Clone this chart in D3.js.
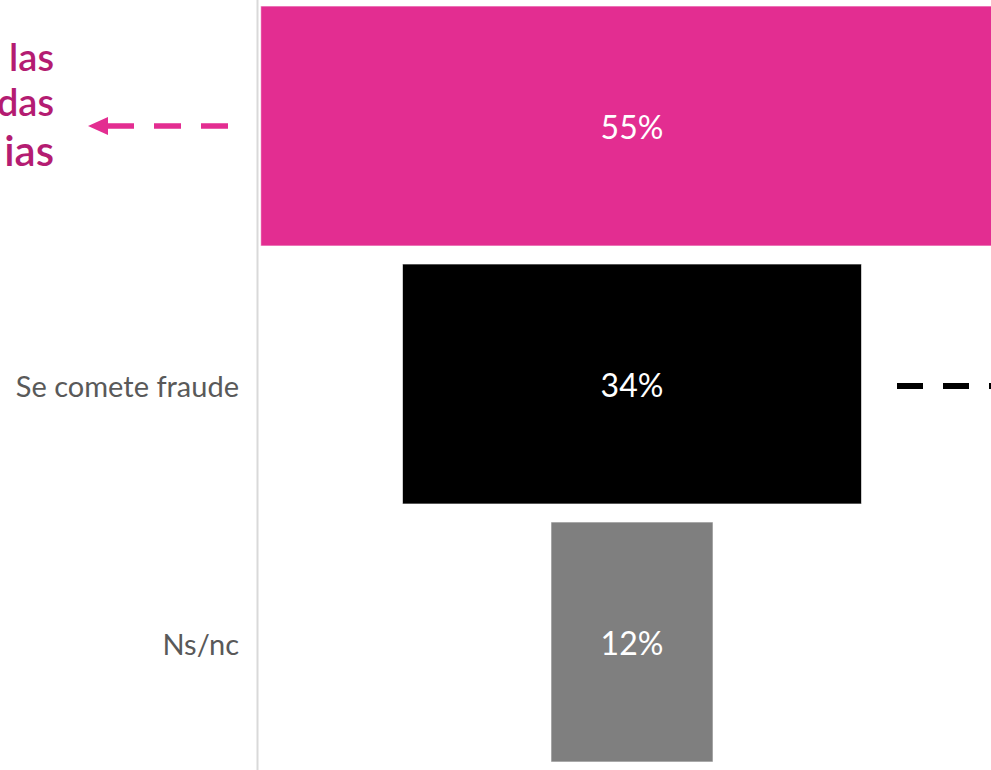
<!DOCTYPE html>
<html>
<head>
<meta charset="utf-8">
<script src="https://cdn.jsdelivr.net/npm/d3@7"></script>
<style>
  html, body { margin: 0; padding: 0; background: #fff; overflow: hidden; }
</style>
</head>
<body>
<svg id="chart" width="991" height="770"></svg>
<script>
'use strict';
// funnel data
var categories = ['top', 'fraude', 'nsnc'],
    labels = ['', 'Se comete fraude', 'Ns/nc'],
    values = [55, 34, 12],
    colors = ['#e32d91', '#000000', '#7f7f7f'],
    noteLines = ['las', 'das', 'ias'];

var width = 991, height = 770, cx = 632;

var svg = d3.select('#chart');

// symmetric scale, bars go from -v/2 to +v/2 around the centre
var x = d3.scaleLinear().domain([-60, 60]).range([cx - 60 * 13.5, cx + 60 * 13.5]);
var y = d3.scaleBand().domain(categories).range([-3, 771]).paddingInner(0.07).paddingOuter(0.035);

// bars
var bars = svg.append('g').selectAll('g')
  .data(categories)
  .enter()
  .append('g');

bars.append('rect')
  .attr('x', (d, i) => x(-values[i] / 2))
  .attr('y', d => y(d))
  .attr('width', (d, i) => x(values[i] / 2) - x(-values[i] / 2))
  .attr('height', y.bandwidth())
  .attr('fill', (d, i) => colors[i])
  .attr('stroke', '#ffffff')
  .attr('stroke-opacity', 0.6)
  .attr('stroke-width', 1);

bars.append('text')
  .text((d, i) => values[i] + '%')
  .attr('x', cx)
  .attr('y', d => y(d) + y.bandwidth() / 2)
  .attr('dy', '0.42em')
  .style('text-anchor', 'middle')
  .style('font-family', 'Lato, "Open Sans", sans-serif')
  .style('font-size', '32px')
  .style('fill', '#ffffff');

// axis
var axis = svg.append('g')
  .attr('transform', 'translate(257,0)')
  .call(d3.axisLeft(y).tickSize(0).tickPadding(18).tickFormat((d, i) => labels[i]));
axis.select('.domain').attr('stroke', '#d9d9d9').attr('stroke-width', 2);
axis.selectAll('text')
  .attr('dy', '0.45em')
  .style('font-family', 'Lato, "Open Sans", sans-serif')
  .style('font-size', '29px')
  .style('fill', '#595959');

// left note, cropped in the picture
svg.append('g').selectAll('text')
  .data(noteLines)
  .enter()
  .append('text')
  .text(d => d)
  .attr('x', 54)
  .attr('y', (d, i) => [71, 116, 166][i])
  .style('text-anchor', 'end')
  .style('font-family', 'Lato, "Open Sans", sans-serif')
  .style('font-weight', 600)
  .style('font-size', (d, i) => i === 2 ? '42px' : '38px')
  .style('fill', '#b41c72');

// arrows
var topMid = y(categories[0]) + y.bandwidth() / 2,
    midMid = y(categories[1]) + y.bandwidth() / 2;

svg.append('line')
  .attr('x1', 228).attr('x2', 106)
  .attr('y1', topMid).attr('y2', topMid)
  .attr('stroke', '#e32d91')
  .attr('stroke-width', 5.5)
  .attr('stroke-dasharray', '27,20');
svg.append('path')
  .attr('d', 'M88,' + topMid + 'L108,' + (topMid - 9) + 'L108,' + (topMid + 9) + 'Z')
  .attr('fill', '#e32d91');

svg.append('line')
  .attr('x1', 897).attr('x2', 1010)
  .attr('y1', midMid + 2).attr('y2', midMid + 2)
  .attr('stroke', '#000000')
  .attr('stroke-width', 6)
  .attr('stroke-dasharray', '26,20');
</script>
</body>
</html>
